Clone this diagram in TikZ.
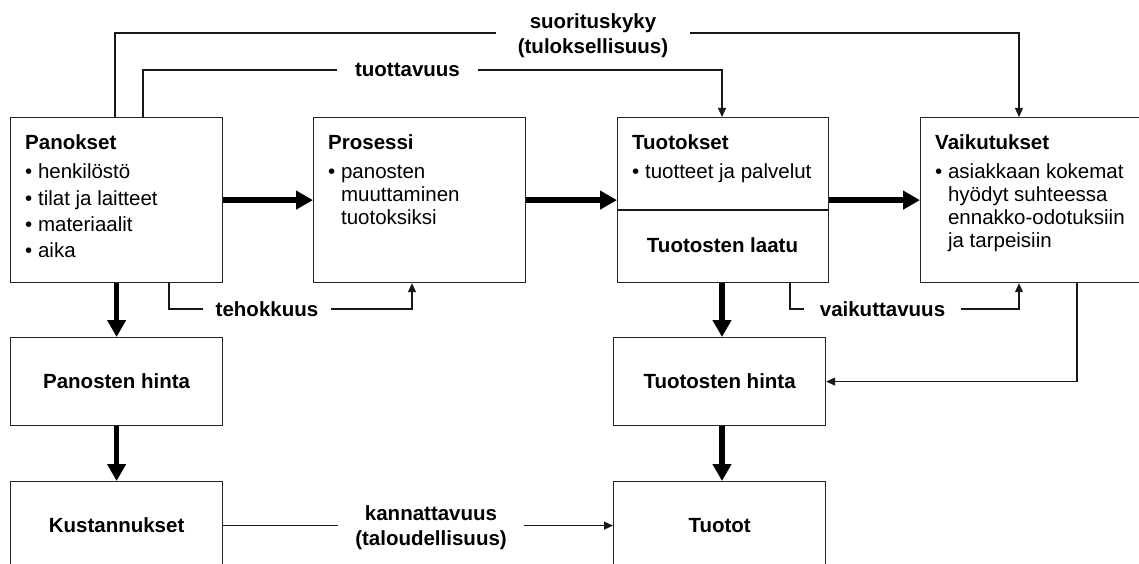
\documentclass[tikz,border=0pt]{standalone}
\usepackage{fontspec}
\setmainfont{Liberation Sans}
\usetikzlibrary{arrows.meta}
\begin{document}
\begin{tikzpicture}[x=1pt,y=-1pt,
  every node/.style={font=\fontsize{20.5}{22.8}\selectfont, text=black},
  box/.style={draw=black!85, line width=1.2pt, rectangle, inner sep=0pt,
    anchor=north west, font=\fontsize{20.5}{22.8}\selectfont\bfseries},
  txt/.style={anchor=base west, inner sep=0pt},
  lbl/.style={fill=white, inner ysep=0pt, font=\fontsize{20.5}{25}\selectfont\bfseries, align=center},
  flow/.style={line width=5.5pt, -{Triangle[length=17pt,width=18pt]}},
  link/.style={line width=1.2pt, draw=black!90},
  linkarrow/.style={link, -{Triangle[length=9pt,width=8pt]}}
]
\useasboundingbox (0,0) rectangle (1139,564);

% main row of boxes
\node[box, minimum width=212pt, minimum height=165pt] (pan) at (10,117) {};
\node[box, minimum width=212pt, minimum height=165pt] (pro) at (313,117) {};
\node[box, minimum width=211pt, minimum height=165pt] (tuo) at (617,117) {};
\node[box, minimum width=224pt, minimum height=165pt] (vai) at (920,117) {};
\draw[link] (tuo.west |- 0,210) -- (tuo.east |- 0,210);

% price and money boxes
\node[box, minimum width=212pt, minimum height=88pt] (ph) at (10,337) {Panosten hinta};
\node[box, minimum width=212pt, minimum height=88pt] (kus) at (10,481) {Kustannukset};
\node[box, minimum width=212pt, minimum height=88pt] (th) at (613,337) {Tuotosten hinta};
\node[box, minimum width=212pt, minimum height=88pt] (tot) at (613,481) {Tuotot};

% box contents
\node[txt] (pantxt) at (25,149.5) {\begin{tabular}[t]{@{}l@{}}\textbf{Panokset}\\[6.7pt]
  • henkilöstö\\[3.5pt] • tilat ja laitteet\\[3.5pt] • materiaalit\\[3.5pt] • aika\end{tabular}};
\node[txt] (protxt) at (328,149.5) {\begin{tabular}[t]{@{}l@{}}\textbf{Prosessi}\\[6.7pt]
  • panosten\\ \hphantom{• }muuttaminen\\ \hphantom{• }tuotoksiksi\end{tabular}};
\node[txt] (tuotxt) at (632,149.5) {\begin{tabular}[t]{@{}l@{}}\textbf{Tuotokset}\\[6.7pt]
  • tuotteet ja palvelut\end{tabular}};
\node[anchor=base, inner sep=0pt, font=\fontsize{20.5}{22.8}\selectfont\bfseries] (laatu) at (722.5,252) {Tuotosten laatu};
\node[txt] (vaitxt) at (935,149.5) {\begin{tabular}[t]{@{}l@{}}\textbf{Vaikutukset}\\[6.7pt]
  • asiakkaan kokemat\\ \hphantom{• }hyödyt suhteessa\\ \hphantom{• }ennakko-odotuksiin\\ \hphantom{• }ja tarpeisiin\end{tabular}};

% main flow
\draw[flow] (pan.east) -- (pro.west);
\draw[flow] (pro.east) -- (tuo.west);
\draw[flow] (tuo.east) -- (vai.west);
\draw[flow] (pan.south) -- (ph.north);
\draw[flow] (ph.south) -- (kus.north);
\draw[flow] (722,0 |- tuo.south) -- (722,0 |- th.north);
\draw[flow] (722,0 |- th.south) -- (722,0 |- tot.north);

% measures
\draw[linkarrow] (115,0 |- pan.north) -- (115,33) -| (1019,0 |- vai.north);
\draw[linkarrow] (143,0 |- pan.north) -- (143,70) -| (722,0 |- tuo.north);
\draw[linkarrow] (169,0 |- pan.south) -- (169,309) -| (412,0 |- pro.south);
\draw[linkarrow] (790,0 |- tuo.south) -- (790,309) -| (1019,0 |- vai.south);
\draw[linkarrow] (1077,0 |- vai.south) |- (th.east);
\draw[linkarrow] (kus.east) -- (tot.west);

% measure labels
\node[lbl, inner xsep=22pt] (suor) at (593,35.3) {suorituskyky\\(tuloksellisuus)};
\node[lbl, inner xsep=18pt, anchor=base] (tuot) at (407.5,77) {tuottavuus};
\node[lbl, inner xsep=13pt, anchor=base] (teho) at (267,316) {tehokkuus};
\node[lbl, inner xsep=16pt, anchor=base] (vaik) at (882.5,316) {vaikuttavuus};
\node[lbl, inner xsep=17pt] (kann) at (431,527.3) {kannattavuus\\(taloudellisuus)};
\end{tikzpicture}
\end{document}
